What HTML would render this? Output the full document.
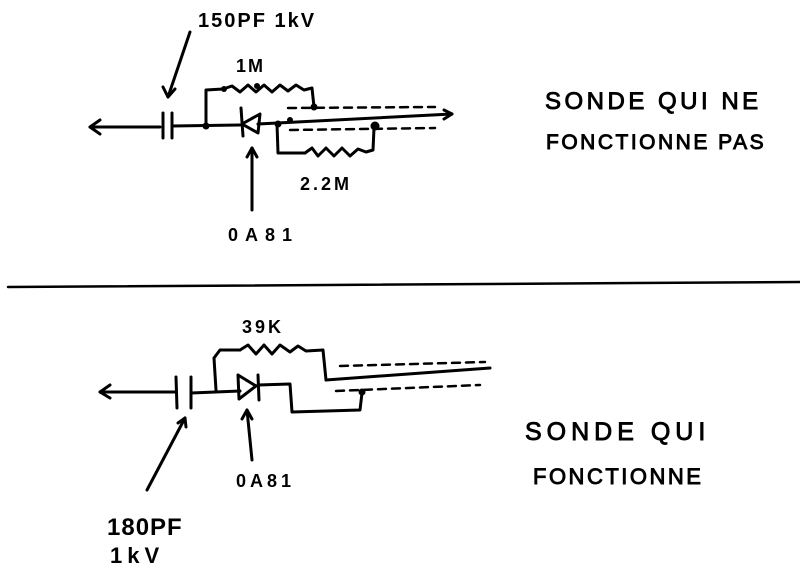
<!DOCTYPE html>
<html><head><meta charset="utf-8"><style>
html,body{margin:0;padding:0;background:#fff;}
svg{display:block;}
text{font-family:"Liberation Sans",sans-serif;fill:#000;}
.b{font-weight:bold;}
.h{stroke:#000;stroke-width:0.9;}
</style></head><body>
<svg width="800" height="574" viewBox="0 0 800 574" xmlns="http://www.w3.org/2000/svg">
<g stroke="#000" stroke-width="3" fill="none" stroke-linecap="round" stroke-linejoin="round">
<line x1="90" y1="127" x2="160" y2="127"/>
<polyline points="100,120 90,127 100,134"/>
<line x1="163" y1="113" x2="163" y2="138"/>
<line x1="172" y1="113" x2="172" y2="138"/>
<line x1="172" y1="126" x2="240" y2="125"/>
<polyline points="206,126 206,90 223,89"/>
<polyline points="223,89 232,86 240,92 248,85 256,92 264,85 272,92 280,85 288,91 296,85 304,90 312,88 314,107"/>
<line x1="241" y1="108" x2="243" y2="136"/>
<polyline points="242,124 260,114 258,133 242,124"/>
<line x1="258" y1="124" x2="452" y2="114"/>
<polyline points="444,110 452,114 444,119"/>
<polyline points="277,124 278,153 305,153"/>
<polyline points="305,153 312,148 318,156 326,148 334,156 342,148 350,156 358,149 366,152 373,150 374,128"/>
<g stroke-dasharray="8 6" stroke-width="2.5">
<line x1="288" y1="108" x2="435" y2="107"/>
<line x1="290" y1="130" x2="435" y2="128"/>
</g>
<line x1="190" y1="32" x2="168" y2="97"/>
<polyline points="163,87 168,97 175,89"/>
<line x1="252" y1="210" x2="252" y2="148"/>
<polyline points="247,157 252,148 257,157"/>
<line x1="8" y1="287" x2="800" y2="282" stroke-width="2.5"/>
<line x1="100" y1="392" x2="175" y2="392"/>
<polyline points="110,385 100,392 110,398"/>
<line x1="176" y1="377" x2="177" y2="408"/>
<line x1="191" y1="377" x2="191" y2="408"/>
<line x1="191" y1="393" x2="240" y2="391"/>
<polyline points="216,390 214,358 220,350 240,350"/>
<polyline points="240,350 248,345 256,354 264,345 272,354 280,345 290,352 298,346 306,351 323,350 326,380"/>
<polyline points="238,375 256,386 239,399 238,375"/>
<line x1="258" y1="375" x2="259" y2="400"/>
<polyline points="258,385 290,384 292,412 360,410 362,393"/>
<line x1="326" y1="380" x2="490" y2="368"/>
<g stroke-dasharray="8 6" stroke-width="2.5">
<line x1="340" y1="366" x2="485" y2="362"/>
<line x1="336" y1="391" x2="480" y2="385"/>
</g>
<line x1="147" y1="490" x2="185" y2="418"/>
<polyline points="178,423 185,418 186,427"/>
<line x1="252" y1="460" x2="247" y2="410"/>
<polyline points="242,419 247,410 252,419"/>
</g>
<g fill="#000">
<circle cx="206" cy="126" r="3.5"/><circle cx="224" cy="89" r="3"/><circle cx="278" cy="124" r="3.5"/>
<circle cx="314" cy="107" r="3.5"/><circle cx="290" cy="120" r="3"/><circle cx="375" cy="126" r="4.5"/>
<circle cx="257" cy="86" r="3"/>
<circle cx="362" cy="392" r="3.5"/>
</g>
<text class="b" x="198" y="27" font-size="20" letter-spacing="2">150PF 1kV</text>
<text class="b" x="236" y="72" font-size="18" letter-spacing="2">1M</text>
<text class="b" x="300" y="190" font-size="18" letter-spacing="3">2.2M</text>
<text class="b" x="228" y="241" font-size="18" letter-spacing="7">0A81</text>
<text class="b" x="242" y="333" font-size="18" letter-spacing="3">39K</text>
<text class="b" x="236" y="487" font-size="18" letter-spacing="4">0A81</text>
<text class="b" x="107" y="535" font-size="24" letter-spacing="1">180PF</text>
<text class="b" x="110" y="563" font-size="22" letter-spacing="5">1kV</text>
<text class="h" x="545" y="109" font-size="24" letter-spacing="3.5">SONDE QUI NE</text>
<text class="h" x="546" y="149" font-size="21" letter-spacing="2.5">FONCTIONNE PAS</text>
<text class="h" x="525" y="440" font-size="25" letter-spacing="5">SONDE QUI</text>
<text class="h" x="533" y="484" font-size="22" letter-spacing="2.5">FONCTIONNE</text>
</svg>
</body></html>
